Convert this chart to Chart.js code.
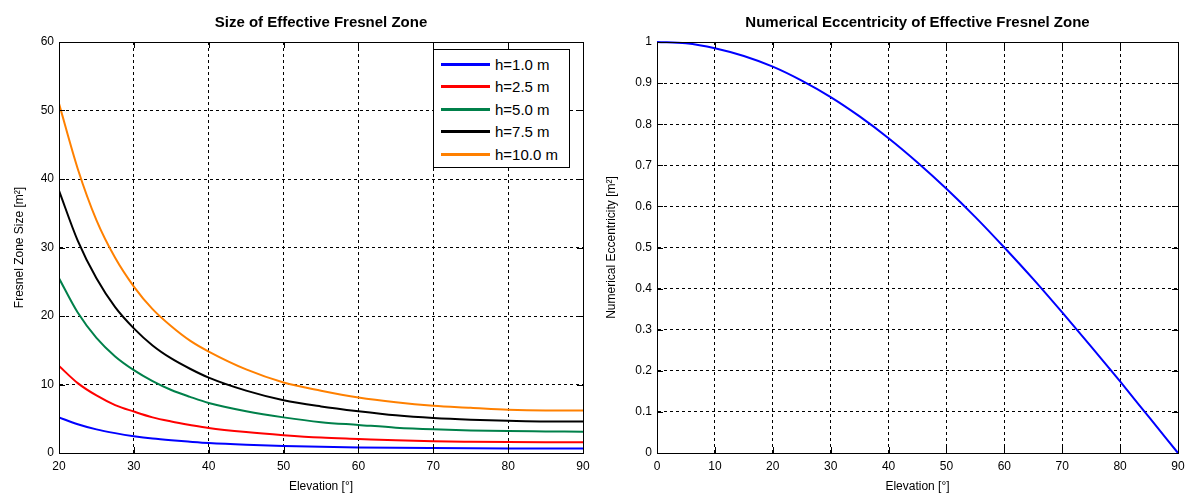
<!DOCTYPE html>
<html>
<head>
<meta charset="utf-8">
<title>Effective Fresnel Zone</title>
<script src="https://cdn.jsdelivr.net/npm/chart.js@4.4.1/dist/chart.umd.min.js"></script>
<style>
  body { margin: 0; background: #fff; }
  #wrap { position: relative; width: 1196px; height: 496px; }
  canvas { position: absolute; top: 0; }
  #size-chart { left: 0; }
  #ecc-chart { left: 598px; }
  .legend {
    position: absolute; left: 433px; top: 49px; width: 135px; height: 117px;
    border: 1px solid #000; background: #fff;
    font: 15px "Liberation Sans", Arial, sans-serif; color: #000;
  }
  .legend-row { position: absolute; left: 7px; height: 22px; display: flex; align-items: center; }
  .legend-line { display: inline-block; width: 49px; height: 3px; margin-right: 5px; }
</style>
</head>
<body>
<div id="wrap">
  <canvas id="size-chart" width="598" height="496"></canvas>
  <canvas id="ecc-chart" width="598" height="496"></canvas>
  <div class="legend" id="legend"></div>
</div>
<script>
// elevation angles in degrees (left chart)
const elevation = [20, 22.5, 25, 27.5, 30, 32.5, 35, 37.5, 40, 45, 50, 55, 60, 65, 70, 75, 80, 85, 90];

// Fresnel zone size [m²] per antenna height
const size_h1 = [5.2, 4.2, 3.45, 2.9, 2.45, 2.1, 1.85, 1.65, 1.47, 1.22, 1.04, 0.91, 0.82, 0.76, 0.72, 0.69, 0.67, 0.66, 0.66];
const size_h2_5 = [12.7, 10.2, 8.4, 7.0, 6.05, 5.2, 4.6, 4.1, 3.65, 3.05, 2.6, 2.25, 2.05, 1.85, 1.72, 1.65, 1.6, 1.58, 1.58];
const size_h5 = [25.5, 20.5, 16.8, 14.1, 12.1, 10.5, 9.2, 8.2, 7.3, 6.1, 5.2, 4.5, 4.1, 3.7, 3.45, 3.3, 3.2, 3.15, 3.1];
const size_h7_5 = [38.3, 31, 25.5, 21.3, 18.2, 15.7, 13.8, 12.3, 11, 9.1, 7.7, 6.8, 6.1, 5.5, 5.1, 4.85, 4.7, 4.6, 4.6];
const size_h10 = [51, 41.5, 34, 28.5, 24.3, 21, 18.5, 16.4, 14.8, 12.2, 10.3, 9.1, 8.1, 7.4, 6.9, 6.6, 6.3, 6.2, 6.2];

const seriesLabels = ['h=1.0 m', 'h=2.5 m', 'h=5.0 m', 'h=7.5 m', 'h=10.0 m'];
const seriesColors = ['#0000ff', '#ff0000', '#00804a', '#000000', '#ff8000'];

// right chart
const eccElevation = [0, 5, 10, 15, 20, 25, 30, 35, 40, 45, 50, 55, 60, 65, 70, 75, 80, 85, 90];
const eccentricity = [1, 0.997, 0.985, 0.966, 0.94, 0.906, 0.866, 0.819, 0.766, 0.707, 0.643, 0.574, 0.5, 0.423, 0.342, 0.259, 0.174, 0.087, 0];

Chart.defaults.font.family = '"Liberation Sans", Arial, sans-serif';
Chart.defaults.color = '#000';

// black box around the plot with inward tick marks, like matlab axes
const boxPlugin = {
    id: 'axesBox',
    afterDraw(chart) {
        const ctx = chart.ctx;
        const a = chart.chartArea;
        const sx = chart.scales.x;
        const sy = chart.scales.y;
        ctx.save();
        ctx.strokeStyle = '#000';
        ctx.lineWidth = 1;
        ctx.setLineDash([]);
        ctx.beginPath();
        sx.ticks.forEach(t => {
            const px = Math.round(sx.getPixelForValue(t.value)) + 0.5;
            ctx.moveTo(px, a.bottom); ctx.lineTo(px, a.bottom - 6);
            ctx.moveTo(px, a.top); ctx.lineTo(px, a.top + 6);
        });
        sy.ticks.forEach(t => {
            const py = Math.round(sy.getPixelForValue(t.value)) + 0.5;
            ctx.moveTo(a.left, py); ctx.lineTo(a.left + 6, py);
            ctx.moveTo(a.right, py); ctx.lineTo(a.right - 6, py);
        });
        ctx.stroke();
        ctx.strokeRect(Math.round(a.left) + 0.5, Math.round(a.top) + 0.5, Math.round(a.width), Math.round(a.height));
        ctx.restore();
    }
};

function toPoints(xs, ys) {
    return xs.map((x, i) => ({ x: x, y: ys[i] }));
}

function makeAxis(min, max, step, title, titlePad, isX, fmt) {
    return {
        type: 'linear',
        min: min,
        max: max,
        ticks: {
            stepSize: step,
            padding: isX ? 6 : 5,
            font: { size: 12 },
            color: '#000',
            callback: fmt || (v => v)
        },
        grid: { color: '#000', lineWidth: 1, drawTicks: false },
        border: { display: true, color: '#000', dash: [3, 3] },
        title: {
            display: true,
            text: title,
            font: { size: 12 },
            color: '#000',
            padding: titlePad
        },
        afterFit: isX ? (s => { s.height = 43; }) : (s => { s.width = 59; })
    };
}

function makeOptions(titleText, xAxis, yAxis, rightPad) {
    return {
        responsive: false,
        animation: false,
        layout: { padding: { left: 0, right: rightPad, top: 0, bottom: 0 } },
        plugins: {
            legend: { display: false },
            tooltip: { enabled: false },
            title: {
                display: true,
                text: titleText,
                fullSize: false,
                color: '#000',
                font: { size: 15, weight: 'bold' },
                padding: { top: 14, bottom: 10 }
            }
        },
        elements: { point: { radius: 0 }, line: { borderWidth: 2 } },
        scales: { x: xAxis, y: yAxis }
    };
}

const sizeSeries = [size_h1, size_h2_5, size_h5, size_h7_5, size_h10];

new Chart(document.getElementById('size-chart'), {
    type: 'line',
    data: {
        datasets: sizeSeries.map((ys, i) => ({
            label: seriesLabels[i],
            data: toPoints(elevation, ys),
            borderColor: seriesColors[i],
            backgroundColor: seriesColors[i],
            cubicInterpolationMode: 'monotone',
            fill: false
        }))
    },
    options: makeOptions('Size of Effective Fresnel Zone',
        makeAxis(20, 90, 10, 'Elevation [°]', { top: 0, bottom: 2 }, true),
        makeAxis(0, 60, 10, 'Fresnel Zone Size [m²]', { top: 12, bottom: 0 }, false),
        15),
    plugins: [boxPlugin]
});

new Chart(document.getElementById('ecc-chart'), {
    type: 'line',
    data: {
        datasets: [{
            label: 'Numerical Eccentricity',
            data: toPoints(eccElevation, eccentricity),
            borderColor: '#0000ff',
            backgroundColor: '#0000ff',
            cubicInterpolationMode: 'monotone',
            clip: false,
            fill: false
        }]
    },
    options: makeOptions('Numerical Eccentricity of Effective Fresnel Zone',
        makeAxis(0, 90, 10, 'Elevation [°]', { top: 0, bottom: 2 }, true),
        makeAxis(0, 1, 0.1, 'Numerical Eccentricity [m²]', { top: 6, bottom: 0 }, false, v => +v.toFixed(1)),
        18),
    plugins: [boxPlugin]
});

// legend drawn inside the left plot
const legend = document.getElementById('legend');
seriesLabels.forEach((label, i) => {
    const row = document.createElement('div');
    row.className = 'legend-row';
    row.style.top = (3 + i * 22.5) + 'px';
    row.innerHTML = '<span class="legend-line" style="background:' + seriesColors[i] + '"></span>' + label;
    legend.appendChild(row);
});
</script>
</body>
</html>
